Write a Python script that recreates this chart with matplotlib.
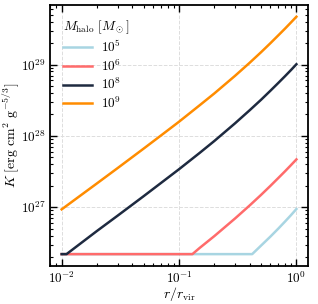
import matplotlib
matplotlib.use("Agg")
import matplotlib.pyplot as plt
import numpy as np

# r / r_vir sample points
r_grid = [0.01, 0.02, 0.03, 0.05, 0.07, 0.1, 0.15, 0.2, 0.3, 0.4, 0.5, 0.6, 0.7, 0.8, 0.9, 1.0]

# M_halo = 1e9
K_1e9 = [9.33e26, 2.16e27, 3.54e27, 6.64e27, 1.01e28, 1.58e28, 2.69e28, 3.94e28,
         6.95e28, 1.06e29, 1.49e29, 1.99e29, 2.56e29, 3.19e29, 3.90e29, 4.68e29]

# M_halo = 1e8 (hits the floor right at the inner edge)
r_1e8 = [0.01, 0.011, 0.02, 0.03, 0.05, 0.07, 0.1, 0.15, 0.2, 0.3, 0.4, 0.5, 0.6, 0.7, 0.8, 0.9, 1.0]
K_1e8 = [2.2e26, 2.2e26, 4.65e26, 7.62e26, 1.43e27, 2.18e27, 3.41e27, 5.78e27, 8.49e27,
         1.50e28, 2.29e28, 3.21e28, 4.29e28, 5.51e28, 6.87e28, 8.39e28, 1.01e29]

# M_halo = 1e6
r_1e6 = [0.01, 0.13, 0.15, 0.2, 0.3, 0.4, 0.5, 0.6, 0.7, 0.8, 0.9, 1.0]
K_1e6 = [2.2e26, 2.2e26, 2.69e26, 3.94e26, 6.95e26, 1.06e27, 1.49e27, 1.99e27,
         2.56e27, 3.19e27, 3.90e27, 4.68e27]

# M_halo = 1e5
r_1e5 = [0.01, 0.42, 0.5, 0.6, 0.7, 0.8, 0.9, 1.0]
K_1e5 = [2.2e26, 2.2e26, 2.90e26, 3.87e26, 5.0e26, 6.3e26, 7.76e26, 9.44e26]

labels = [r"$10^5$", r"$10^6$", r"$10^8$", r"$10^9$"]
colors = ["#a8d5e2", "#ff6b6b", "#1e2a40", "#ff8c00"]

plt.rcParams["mathtext.fontset"] = "cm"
plt.rcParams["font.family"] = "serif"
plt.rcParams["font.serif"] = ["cmr10", "DejaVu Serif"]
plt.rcParams["axes.formatter.use_mathtext"] = True

fig = plt.figure(figsize=(3.18, 3.04), dpi=100)
ax = fig.add_axes([0.157, 0.125, 0.812, 0.859])

series = [(r_1e5, K_1e5), (r_1e6, K_1e6), (r_1e8, K_1e8), (r_grid, K_1e9)]
for (r, K), lab, c in zip(series, labels, colors):
    ax.plot(r, K, color=c, lw=1.8, label=lab)

ax.set_xscale("log")
ax.set_yscale("log")

ax.set_xlabel(r"$r/r_{\rm vir}$", fontsize=10)
ax.set_ylabel(r"$K\ [{\rm erg\ cm^2\ g^{-5/3}}]$", fontsize=10)
ax.xaxis.set_label_coords(0.5, -0.072)
ax.yaxis.set_label_coords(-0.112, 0.5)

ax.grid(True, which="major", ls="--", color="#dddddd", lw=0.7)
ax.tick_params(which="both", direction="in", top=True, right=True, labelsize=9.5)
ax.tick_params(which="major", length=5, width=1, pad=3)
ax.tick_params(which="minor", length=2.5, width=0.8)
for s in ax.spines.values():
    s.set_linewidth(1.3)

leg = ax.legend(title=r"$M_{\rm halo}\ [M_\odot]$", loc="upper left", frameon=False,
                fontsize=9.5, title_fontsize=9.5, handlelength=2.2, handletextpad=0.7,
                labelspacing=0.25, borderaxespad=0.6)
leg._legend_box.align = "left"

fig.savefig("out.png", dpi=100)
